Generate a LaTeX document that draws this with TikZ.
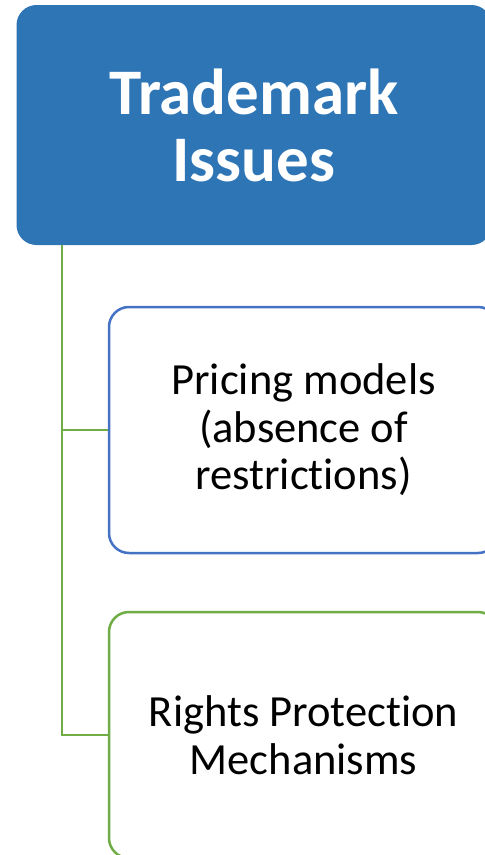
\documentclass[tikz,border=0pt]{standalone}
\usepackage{fontspec}
\setmainfont{Carlito}[Ligatures=CommonOff]
\usepackage{tikz}

\definecolor{hdrblue}{HTML}{2E75B6}
\definecolor{boxblue}{HTML}{4472C4}
\definecolor{leafgreen}{HTML}{70AD47}

\begin{document}
\begin{tikzpicture}[x=1pt, y=1pt,
    leaf/.style={draw, line width=2.5pt, fill=white, rounded corners=20pt, minimum width=389pt, minimum height=246pt, align=center, font=\fontsize{44.5}{47.5}\selectfont},
    link/.style={draw=leafgreen, line width=2.6pt}]
  \clip (0,0) rectangle (485,-855);
  \node[fill=hdrblue, rounded corners=20pt, minimum width=475pt, minimum height=240pt, align=center, text=white, font=\fontsize{65}{67}\selectfont\bfseries] (hdr) at (254,-125) {Trademark\\Issues};
  \node[leaf, draw=boxblue] (pricing) at (303.5,-430) {Pricing models\\(absence of\\restrictions)};
  \node[leaf, draw=leafgreen] (rights) at (303.5,-735) {Rights Protection\\Mechanisms};
  \coordinate (root) at (62,-245);
  \draw[link] (root) |- (pricing.west);
  \draw[link] (root) |- (rights.west);
\end{tikzpicture}
\end{document}
